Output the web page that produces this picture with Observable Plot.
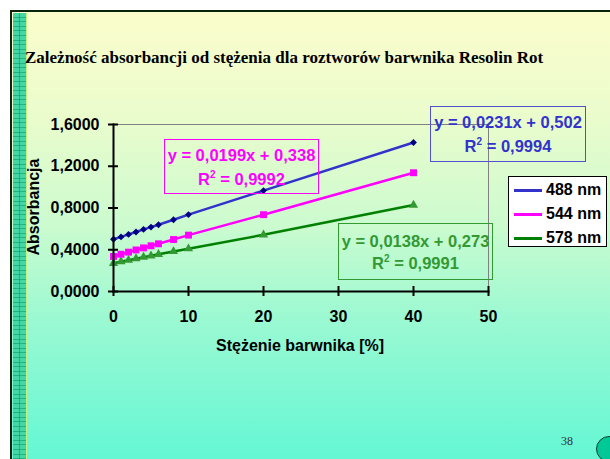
<!DOCTYPE html>
<html><head><meta charset="utf-8">
<script src="https://cdn.jsdelivr.net/npm/d3@7"></script>
<script src="https://cdn.jsdelivr.net/npm/@observablehq/plot@0.6"></script>
<style>
html,body{margin:0;padding:0;background:#fff;}
#page{position:relative;width:610px;height:459px;overflow:hidden;background:#fff;font-family:"Liberation Sans",Arial,sans-serif;font-weight:bold;}
#slide{position:absolute;left:10px;top:10px;right:0;bottom:0;
  background:linear-gradient(to bottom,#fbfdcc 0%,#ecfccc 22%,#cbfbcf 48%,#98f9d2 70%,#64f7d4 100%);
  border-left:2.5px solid #0b240b;border-top:2.5px solid #0b240b;}
#strip{position:absolute;left:12.5px;top:12.5px;width:13px;bottom:0;
  background-color:#45d6a6;
  background-image:repeating-linear-gradient(to bottom,transparent 0 3.6px,rgba(0,150,100,.55) 3.6px 4.6px),
    linear-gradient(to right,transparent 0 6px,rgba(0,150,100,.55) 6px 7px,transparent 7px);
  border-right:1.5px solid #c8f080;}
.abs{position:absolute;white-space:nowrap;}
#title{left:25px;top:49px;font-family:"Liberation Serif","Times New Roman",serif;font-size:17px;line-height:1;color:#000;}
.eq{position:absolute;box-sizing:border-box;text-align:center;font-size:16.5px;}
.eq sup{font-size:10px;vertical-align:7px;line-height:0;}
#legend{position:absolute;left:508px;top:176px;width:99px;height:71px;box-sizing:border-box;background:#fff;border:1px solid #000;padding-top:1px;}
.row{position:relative;height:24px;line-height:24px;font-size:16px;}
.row i{position:absolute;left:5px;top:11px;width:28px;height:2.5px;}
.row span{position:absolute;left:37px;}
#plot{position:absolute;left:0;top:0;}
</style></head>
<body>
<div id="page">
  <div id="slide"></div>
  <div id="strip"></div>
  <div id="title" class="abs">Zależność absorbancji od stężenia dla roztworów barwnika Resolin Rot</div>
  <div id="plot"></div>
  <div class="abs" style="left:34px;top:207px;transform:translate(-50%,-50%) rotate(-90deg);font-size:16px;">Absorbancja</div>
  <div class="abs" style="left:300px;top:345.5px;transform:translate(-50%,-50%);font-size:16px;line-height:1;">Stężenie barwnika [%]</div>
  <div class="eq" style="left:430px;top:106px;width:156px;height:56px;border:1px solid #5050d0;color:#3333cc;padding-top:3px;line-height:24px;">y = 0,0231x + 0,502<br>R<sup>2</sup> = 0,9994</div>
  <div class="eq" style="left:164px;top:139px;width:155px;height:55px;border:1px solid #ff00ff;color:#ff00ff;padding-top:2.5px;line-height:24px;">y = 0,0199x + 0,338<br>R<sup>2</sup> = 0,9992</div>
  <div class="eq" style="left:338px;top:223px;width:155px;height:57px;border:1px solid #339933;color:#339933;padding-top:6px;line-height:22px;">y = 0,0138x + 0,273<br>R<sup>2</sup> = 0,9991</div>
  <div id="legend">
    <div class="row"><i style="background:#3333cc"></i><span>488 nm</span></div>
    <div class="row"><i style="background:#ff00ff"></i><span>544 nm</span></div>
    <div class="row"><i style="background:#008000"></i><span>578 nm</span></div>
  </div>
  <div class="abs" style="left:567px;top:441px;transform:translate(-50%,-50%);font-family:'Liberation Serif',serif;font-weight:normal;font-size:12px;color:#333;">38</div>
  <div class="abs" style="left:596px;top:436px;width:24px;height:24px;border-radius:50%;background:#00c896;border:1px solid #1a3a2a;"></div>
</div>
<script>
const conc = [0, 1, 2, 3, 4, 5, 6, 8, 10, 20, 40];
const abs488 = [0.500, 0.523, 0.547, 0.570, 0.595, 0.617, 0.640, 0.688, 0.737, 0.967, 1.428];
const abs544 = [0.336, 0.357, 0.377, 0.398, 0.418, 0.438, 0.457, 0.498, 0.540, 0.736, 1.138];
const abs578 = [0.270, 0.286, 0.300, 0.315, 0.329, 0.342, 0.356, 0.384, 0.410, 0.543, 0.828];
const xTicks = [0, 10, 20, 30, 40, 50];
const yTicks = [0, 0.4, 0.8, 1.2, 1.6];

const d488 = conc.map((c, i) => ({c, v: abs488[i]}));
const d544 = conc.map((c, i) => ({c, v: abs544[i]}));
const d578 = conc.map((c, i) => ({c, v: abs578[i]}));
const fmt = d => d.toFixed(4).replace(".", ",");

const W = 610, H = 459, ML = 113, MR = 122, MT = 124, MB = 168;
const FW = W - ML - MR, FH = H - MT - MB;

const chart = Plot.plot({
  width: W, height: H,
  marginLeft: ML, marginRight: MR, marginTop: MT, marginBottom: MB,
  style: {background: "transparent", fontFamily: "'Liberation Sans', Arial, sans-serif", fontWeight: "bold", fontSize: "15px", color: "#000", overflow: "visible"},
  x: {domain: [0, 50]},
  y: {domain: [0, 1.6]},
  marks: [
    Plot.frame({anchor: "top", stroke: "#808080"}),
    Plot.frame({anchor: "right", stroke: "#808080"}),
    Plot.line(d578, {x: "c", y: "v", stroke: "#008000", strokeWidth: 2.5}),
    Plot.line(d544, {x: "c", y: "v", stroke: "#ff00ff", strokeWidth: 2.5}),
    Plot.line(d488, {x: "c", y: "v", stroke: "#3333cc", strokeWidth: 2.5}),
    Plot.dot(d578, {x: "c", y: "v", symbol: "triangle", r: 3.4, fill: "#339933", stroke: "none"}),
    Plot.dot(d544, {x: "c", y: "v", symbol: "square", r: 3.9, fill: "#ff00ff", stroke: "none"}),
    Plot.dot(d488, {x: "c", y: "v", symbol: "diamond2", r: 3.1, fill: "#000080", stroke: "none"}),
    Plot.frame({anchor: "left", stroke: "#000", strokeWidth: 2}),
    Plot.frame({anchor: "bottom", stroke: "#000", strokeWidth: 2}),
    Plot.tickX(xTicks, {x: d => d, insetTop: FH - 5, insetBottom: -5, stroke: "#000", strokeWidth: 2}),
    Plot.tickY(yTicks, {y: d => d, insetLeft: -5, insetRight: FW - 5, stroke: "#000", strokeWidth: 2}),
    Plot.axisX({ticks: xTicks, tickSize: 0, tickPadding: 19, label: null, fontSize: 16, fontWeight: "bold"}),
    Plot.axisY({ticks: yTicks, tickSize: 0, tickPadding: 14, tickFormat: fmt, label: null, fontSize: 16, fontWeight: "bold"})
  ]
});
document.getElementById("plot").appendChild(chart);
</script>
</body></html>
